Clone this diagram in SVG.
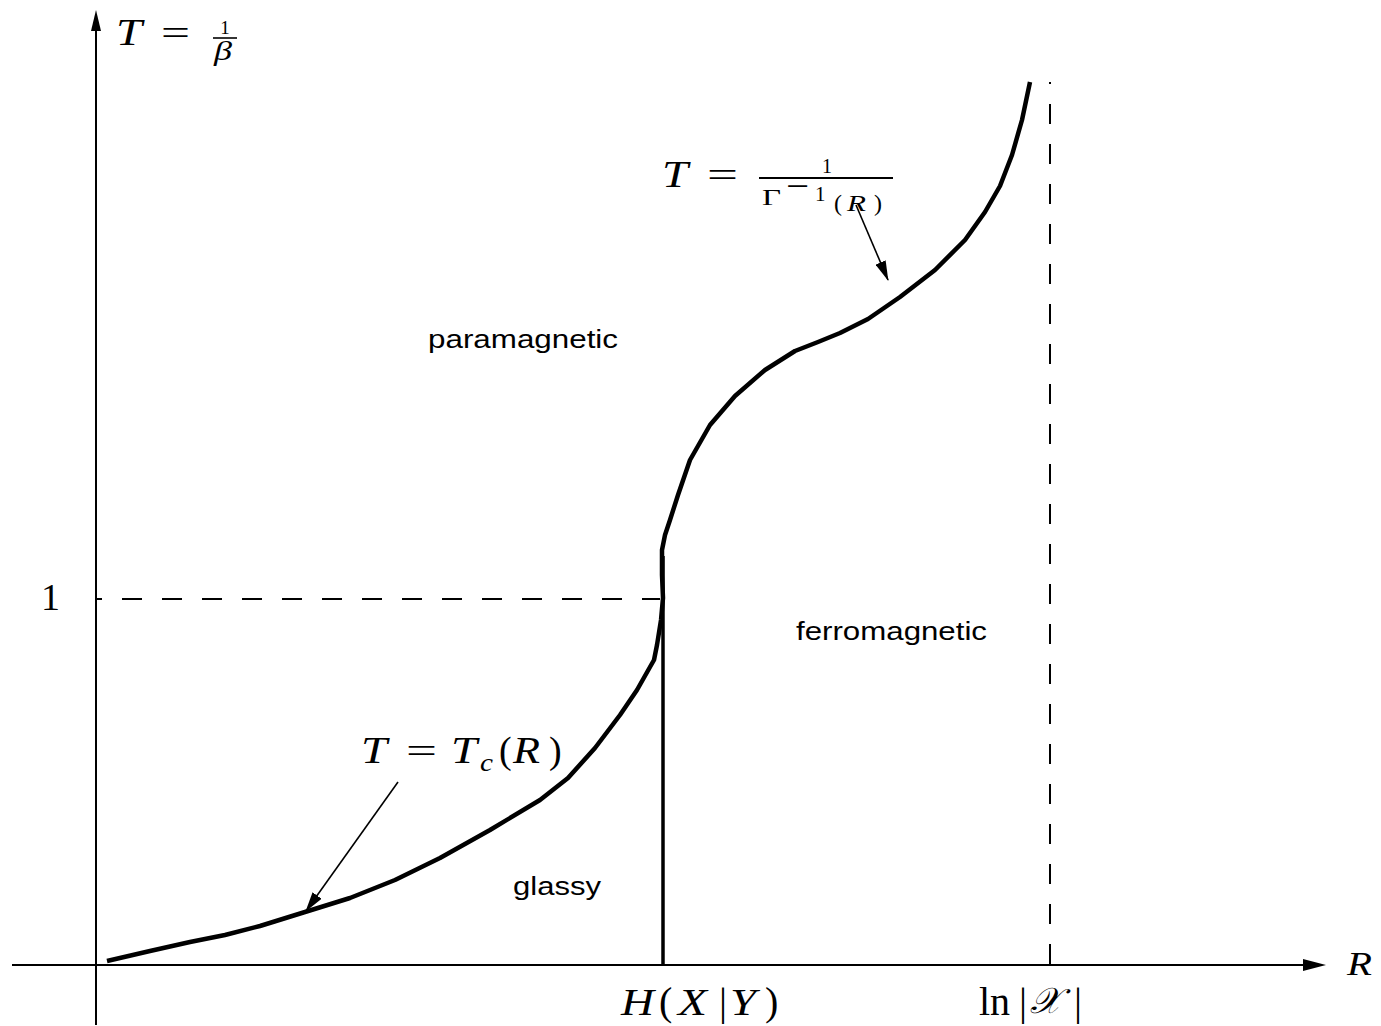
<svg xmlns="http://www.w3.org/2000/svg" width="1381" height="1026" viewBox="0 0 1381 1026">
<style>
.ax{stroke:#000;stroke-width:2;fill:none}
.dash{stroke:#000;stroke-width:2;fill:none;stroke-dasharray:20 20}
.curve{stroke:#000;stroke-width:4.5;fill:none;stroke-linejoin:round;stroke-linecap:butt}
.thin{stroke:#000;stroke-width:1.6;fill:none}
.m{font-family:"Liberation Serif","DejaVu Serif",serif;fill:#000}
.v{font-family:"Liberation Serif","DejaVu Serif",serif;font-style:italic;fill:#000}
.eq{font-family:"Liberation Serif","DejaVu Serif",serif;fill:#000;font-size:36px}
.s{font-family:"Liberation Sans",Arial,sans-serif;font-size:26px;fill:#000}
</style>
<defs>
<marker id="ah" markerWidth="20" markerHeight="11" refX="19" refY="5.5" orient="auto" markerUnits="userSpaceOnUse">
<path d="M0,0 L20,5.5 L0,11 Z" fill="#000"/>
</marker>
</defs>
<g id="axes">
<line class="ax" x1="96" y1="1025" x2="96" y2="28"/>
<path d="M96,10 L101,31 L91,31 Z" fill="#000"/>
<line class="ax" x1="12" y1="965" x2="1305" y2="965"/>
<path d="M1326,965 L1303,959 L1303,971 Z" fill="#000"/>
</g>
<g id="guides">
<line class="dash" x1="97" y1="599" x2="660" y2="599" stroke-dashoffset="15"/>
<line class="dash" x1="1050" y1="82" x2="1050" y2="965" stroke-dashoffset="18"/>
</g>
<g id="boundary">
<line x1="663" y1="556" x2="663" y2="965" stroke="#000" stroke-width="3.5"/>
<polyline class="curve" points="107,961 150,951 190,942 225,935 260,926 305,912 350,898 395,880 440,858 490,830 540,800 568,778 595,748 620,715 637,690 650,667 654,660 657,645 661,620 663,598 662,575 662,550 665,535 670,520 678,495 690,460 710,425 735,396 765,370 795,351 818,342 840,333 868,319 900,297 935,270 965,240 985,212 1000,186 1012,155 1022,120 1030,82"/>
</g>
<g id="connectors">
<line class="thin" x1="398" y1="782" x2="306" y2="911" marker-end="url(#ah)"/>
<line class="thin" x1="856" y1="205" x2="888" y2="280" marker-end="url(#ah)"/>
</g>
<g id="labels">
<text class="v" x="116" y="45" font-size="38" textLength="26" lengthAdjust="spacingAndGlyphs">T</text>
<text class="eq" x="161" y="45" textLength="29" lengthAdjust="spacingAndGlyphs">=</text>
<text class="m" x="225" y="34" font-size="19" text-anchor="middle">1</text>
<line x1="213" y1="38" x2="237" y2="38" stroke="#000" stroke-width="1.6"/>
<text class="v" x="214" y="60" font-size="27" textLength="18" lengthAdjust="spacingAndGlyphs">β</text>

<text class="v" x="662" y="187" font-size="38" textLength="26" lengthAdjust="spacingAndGlyphs">T</text>
<text class="eq" x="707" y="187" textLength="31" lengthAdjust="spacingAndGlyphs">=</text>
<text class="m" x="827" y="173" font-size="20" text-anchor="middle">1</text>
<line x1="759" y1="178" x2="893" y2="178" stroke="#000" stroke-width="1.8"/>
<text class="m" x="762" y="205" font-size="23" textLength="19" lengthAdjust="spacingAndGlyphs">Γ</text>
<text class="eq" x="786" y="198" font-size="22" textLength="23" lengthAdjust="spacingAndGlyphs">−</text>
<text class="m" x="815" y="201" font-size="21">1</text>
<text class="m" x="834" y="211" font-size="24">(</text>
<text class="v" x="847" y="211" font-size="24" textLength="19" lengthAdjust="spacingAndGlyphs">R</text>
<text class="m" x="874" y="211" font-size="24">)</text>

<text class="s" x="428" y="348" textLength="190" lengthAdjust="spacingAndGlyphs">paramagnetic</text>
<text class="s" x="796" y="640" textLength="191" lengthAdjust="spacingAndGlyphs">ferromagnetic</text>
<text class="s" x="513" y="895" textLength="88" lengthAdjust="spacingAndGlyphs">glassy</text>

<text class="v" x="361" y="763" font-size="37" textLength="26" lengthAdjust="spacingAndGlyphs">T</text>
<text class="eq" x="406" y="763" textLength="31" lengthAdjust="spacingAndGlyphs">=</text>
<text class="v" x="451" y="763" font-size="37" textLength="26" lengthAdjust="spacingAndGlyphs">T</text>
<text class="v" x="480" y="771" font-size="25" textLength="13" lengthAdjust="spacingAndGlyphs">c</text>
<text class="m" x="499" y="763" font-size="38">(</text>
<text class="v" x="513" y="763" font-size="37" textLength="27" lengthAdjust="spacingAndGlyphs">R</text>
<text class="m" x="549" y="763" font-size="38">)</text>

<text class="m" x="41" y="610" font-size="38">1</text>

<text class="v" x="621" y="1015" font-size="38" textLength="33" lengthAdjust="spacingAndGlyphs">H</text>
<text class="m" x="659" y="1015" font-size="40">(</text>
<text class="v" x="678" y="1015" font-size="38" textLength="29" lengthAdjust="spacingAndGlyphs">X</text>
<text class="m" x="719" y="1015" font-size="40">|</text>
<text class="v" x="730" y="1015" font-size="38" textLength="26" lengthAdjust="spacingAndGlyphs">Y</text>
<text class="m" x="765" y="1015" font-size="40">)</text>

<text class="m" x="979" y="1015" font-size="40">ln</text>
<text class="m" x="1019" y="1015" font-size="40">|</text>
<text class="m" font-style="italic" x="1030" y="1013" font-size="36">𝒳</text>
<text class="m" x="1074" y="1015" font-size="40">|</text>

<text class="v" x="1347" y="975" font-size="33" textLength="25" lengthAdjust="spacingAndGlyphs">R</text>
</g>
</svg>
